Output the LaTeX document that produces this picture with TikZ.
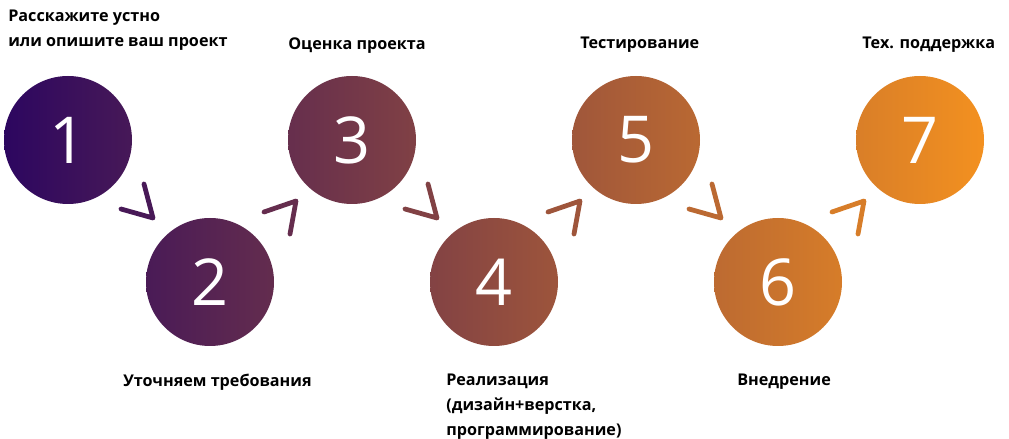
\documentclass[tikz,border=0pt]{standalone}
\usepackage{fontspec}
\setmainfont{Open Sans}
\definecolor{stpurple}{RGB}{44,6,96}
\definecolor{storange}{RGB}{248,148,30}
\begin{document}
\begin{tikzpicture}[
        x=0.025cm, y=-0.025cm,
        stepcircle/.style={circle, minimum size=128*0.025cm, inner sep=0pt, text=white, font=\fontsize{46}{46}\selectfont},
        caption/.style={anchor=north west, align=left, inner sep=0pt, font=\fontsize{11.5}{17.5}\selectfont\bfseries},
        chev/.style={line width=3.4pt, line cap=round, line join=round}
    ]
        \useasboundingbox (0,0) rectangle (1009,439);
        % Circles with gradient across the picture
        \foreach \i/\cx/\cy in {1/68/140, 2/210/282, 3/352/140, 4/494/282, 5/636/140, 6/778/282, 7/920/140} {
            \pgfmathsetmacro\pl{(\cx-64)/1009*100}
            \pgfmathsetmacro\pr{(\cx+64)/1009*100}
            \node[stepcircle, left color=storange!\pl!stpurple, right color=storange!\pr!stpurple] (c\i) at (\cx,\cy) {\i};
        }
        % Chevrons
        \foreach \dx in {0, 284, 568} {
            \pgfmathsetmacro\pa{(138+\dx)/1009*100}
            \pgfmathsetmacro\pb{(280+\dx)/1009*100}
            \draw[chev, draw=storange!\pa!stpurple] (144+\dx,184) -- (153+\dx,218) -- (121+\dx,209);
            \draw[chev, draw=storange!\pb!stpurple] (264+\dx,212) -- (296+\dx,201) -- (290+\dx,234);
        }
        % Labels
        \node[caption] (t1) at (8,10) {Расскажите устно\\или опишите ваш проект};
        \node[caption] (t3) at (288,37) {Оценка проекта};
        \node[caption] (t5) at (580,37) {Тестирование};
        \node[caption] (t7) at (862,37) {Тех. поддержка};
        \node[caption] (t2) at (123,374) {Уточняем требования};
        \node[caption] (t4) at (446,374) {Реализация\\(дизайн+верстка,\\программирование)};
        \node[caption] (t6) at (737,374) {Внедрение};
    \end{tikzpicture}
\end{document}
